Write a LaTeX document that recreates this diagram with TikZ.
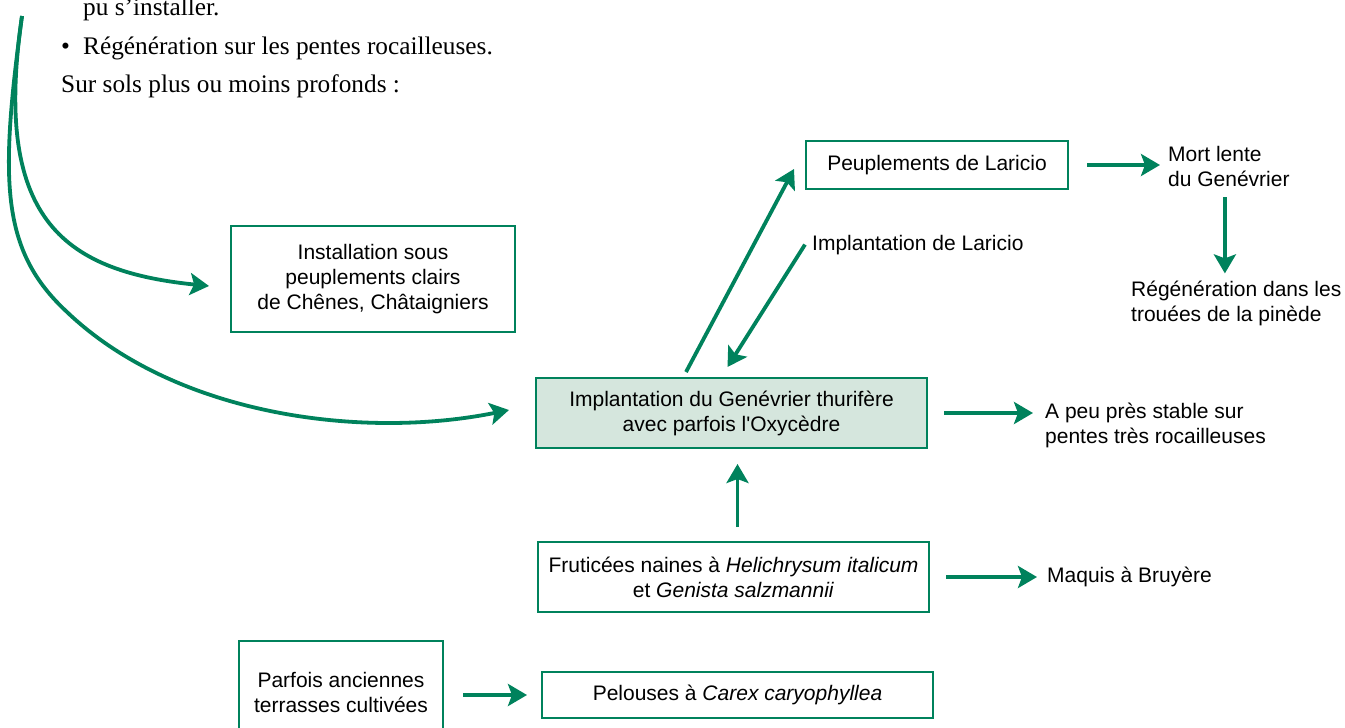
\documentclass[tikz,border=0pt]{standalone}
\usepackage{fontspec}
\setmainfont{Liberation Serif}
\newfontfamily\helv[Ligatures=TeXOff]{Liberation Sans}
\usetikzlibrary{arrows.meta}
\definecolor{vert}{RGB}{0,130,92}
\definecolor{vertclair}{RGB}{213,230,221}
\begin{document}
\begin{tikzpicture}[x=1pt,y=-1pt,
  every node/.style={inner sep=0pt,font=\helv\fontsize{21}{25}\selectfont},
  texte/.style={anchor=base west,font=\rmfamily\fontsize{25.3}{30}\selectfont},
  boite/.style={draw=vert,line width=2pt,align=center},
  libre/.style={align=left,anchor=west},
  fleche/.style={draw=vert,line width=3.8pt,-{Stealth[length=19pt,width=22pt,inset=4pt]}}]
\useasboundingbox (0,0) rectangle (1345,728);
% texte courant
\node[texte] (l1) at (83,16) {pu s’installer.};
\node[texte] (puce) at (61,54) {•};
\node[texte] (l2) at (83,54) {Régénération sur les pentes rocailleuses.};
\node[texte] (l3) at (61,92) {Sur sols plus ou moins profonds :};
% boites
\node[boite,minimum width=262,minimum height=48] (lar) at (937,165) {Peuplements de Laricio};
\node[boite,minimum width=284,minimum height=106] (inst) at (373,279) {Installation sous\\peuplements clairs\\de Chênes, Châtaigniers};
\node[boite,fill=vertclair,minimum width=391,minimum height=70] (gen) at (731.5,413) {Implantation du Genévrier thurifère\\avec parfois l'Oxycèdre};
\node[boite,minimum width=391,minimum height=70] (frut) at (733.5,577) {Fruticées naines à \textit{Helichrysum italicum}\\et \textit{Genista salzmannii}};
\node[boite,minimum width=391,minimum height=46] (pel) at (737.5,695) {Pelouses à \textit{Carex caryophyllea}};
\node[boite,minimum width=204,minimum height=102] (parf) at (341,692) {Parfois anciennes\\terrasses cultivées};
% textes libres
\node[libre] (mort) at (1168,166) {Mort lente\\du Genévrier};
\node[libre] (regen) at (1131,303) {Régénération dans les\\trouées de la pinède};
\node[libre] (apeu) at (1045,425) {A peu près stable sur\\pentes très rocailleuses};
\node[anchor=base west] (maq) at (1047,582) {Maquis à Bruyère};
\node[anchor=base west] (impl) at (812,250) {Implantation de Laricio};
% fleches
\coordinate (src) at (22,16);
\draw[fleche] (src) .. controls (0,180) and (0,250) .. (67,312) .. controls (175,415) and (361,440) .. ([xshift=-26pt,yshift=3pt]gen.west);
\draw[fleche] (src) .. controls (-7,216) and (60,271) .. ([xshift=-21pt,yshift=-7pt]inst.west);
\draw[fleche] ([xshift=151pt,yshift=5pt]gen.north west) -- ([xshift=-11pt,yshift=-4pt]lar.west);
\draw[fleche] ([xshift=-7pt]impl.west) -- ([xshift=-4pt,yshift=10pt]gen.north);
\draw[fleche,shorten <=18pt,shorten >=8pt] (lar.east) -- (lar.east -| mort.west);
\draw[fleche,shorten <=11pt,shorten >=7pt] ([xshift=-4pt]mort.south) -- ([xshift=-4pt]mort.south |- regen.north);
\draw[fleche,shorten <=16pt,shorten >=12pt] (gen.east) -- (gen.east -| apeu.west);
\draw[fleche,shorten <=14pt,shorten >=15pt] ([xshift=4pt]frut.north) -- ([xshift=4pt]frut.north |- gen.south);
\draw[fleche,shorten <=16pt,shorten >=10pt] (frut.east) -- (frut.east -| maq.west);
\draw[fleche,shorten <=19pt,shorten >=14pt] (parf.east |- pel.west) -- (pel.west);
\end{tikzpicture}
\end{document}
